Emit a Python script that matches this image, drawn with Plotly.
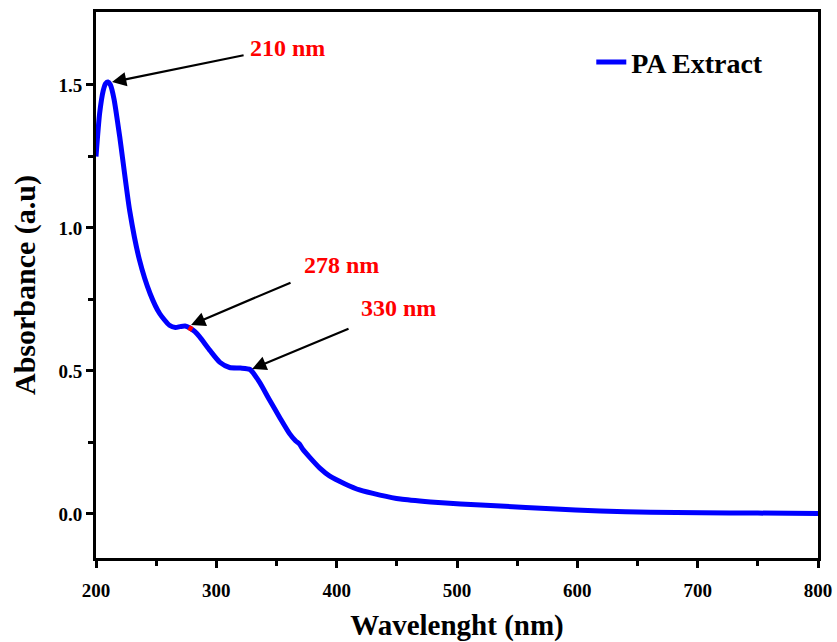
import plotly.graph_objects as go

wavelength = [200, 203, 206, 208, 210, 212, 215, 220, 228, 236, 245, 253, 261, 266, 270, 274, 278, 282, 286, 295, 303, 311, 320, 328, 336, 344, 353, 361, 366, 369, 372, 378, 386, 394, 407, 419, 436, 453, 478, 503, 536, 578, 619, 661, 703, 750, 800]
absorbance = [1.25, 1.40, 1.48, 1.505, 1.51, 1.50, 1.45, 1.31, 1.06, 0.89, 0.77, 0.70, 0.66, 0.652, 0.655, 0.657, 0.65, 0.638, 0.62, 0.57, 0.53, 0.512, 0.51, 0.505, 0.46, 0.40, 0.335, 0.28, 0.255, 0.245, 0.225, 0.196, 0.16, 0.133, 0.105, 0.084, 0.066, 0.052, 0.042, 0.035, 0.028, 0.018, 0.010, 0.006, 0.004, 0.003, 0.002]

peak_labels = ["210 nm", "278 nm", "330 nm"]
arrow_tips = [(213.3, 1.51), (279, 0.661), (329.7, 0.507)]
arrow_tails = [(323.9, 1.605), (362.9, 0.811), (411.1, 0.650)]
label_pos = [(358.8, 1.629), (403.7, 0.871), (451, 0.720)]

x_ticks = [200, 300, 400, 500, 600, 700, 800]
y_ticks = [0.0, 0.5, 1.0, 1.5]

FONT = "Liberation Serif, Times New Roman, serif"

fig = go.Figure()
fig.add_trace(go.Scatter(
    x=wavelength, y=absorbance, mode="lines", name="<b>PA Extract</b>",
    line=dict(color="#0000ff", width=5, shape="spline", smoothing=0.6),
))
fig.add_trace(go.Scatter(
    x=[277, 280], y=[0.652, 0.645], mode="lines", showlegend=False,
    line=dict(color="#ff0000", width=5), hoverinfo="skip",
))

for (tx, ty), (sx, sy) in zip(arrow_tips, arrow_tails):
    fig.add_annotation(x=tx, y=ty, ax=sx, ay=sy, xref="x", yref="y",
                       axref="x", ayref="y", text="", showarrow=True,
                       arrowhead=2, arrowsize=1.3, arrowwidth=2.2,
                       arrowcolor="black", standoff=0)
for (lx, ly), lab in zip(label_pos, peak_labels):
    fig.add_annotation(x=lx, y=ly, xref="x", yref="y", text=f"<b>{lab}</b>",
                       showarrow=False, font=dict(family=FONT, size=24, color="#ff0000"))

axis_common = dict(
    showline=True, linecolor="black", linewidth=3, mirror=True,
    ticks="outside", tickwidth=3, ticklen=7, tickcolor="black",
    showgrid=False, zeroline=False, automargin=False,
    tickfont=dict(family=FONT, size=19, color="black"),
)

fig.update_xaxes(
    range=[200, 800], tickvals=x_ticks, ticktext=[f"<b>{v}</b>" for v in x_ticks],
    ticklabelstandoff=6,
    title=dict(text="<b>Wavelenght (nm)</b>", font=dict(family=FONT, size=29, color="black"), standoff=20),
    minor=dict(ticks="outside", ticklen=5, tickwidth=3, tickcolor="black", dtick=50),
    **axis_common,
)
fig.update_yaxes(
    range=[-0.154, 1.755], tickvals=y_ticks, ticktext=[f"<b>{v:.1f}</b>" for v in y_ticks],
    title=dict(text="<b>Absorbance (a.u)</b>", font=dict(family=FONT, size=30, color="black"), standoff=14),
    minor=dict(ticks="outside", ticklen=5, tickwidth=3, tickcolor="black", tickvals=[-0.25, 0.25, 0.75, 1.25]),
    **axis_common,
)

fig.update_layout(
    width=837, height=642,
    margin=dict(l=96, r=19, t=12, b=84),
    plot_bgcolor="white", paper_bgcolor="white",
    legend=dict(x=0.686, y=0.908, xanchor="left", yanchor="middle",
                font=dict(family=FONT, size=28, color="black"),
                bgcolor="rgba(0,0,0,0)"),
)

fig.write_html("out.html")
